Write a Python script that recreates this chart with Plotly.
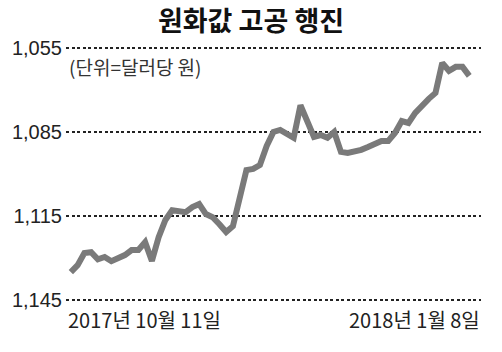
import plotly.graph_objects as go

# Won per dollar, trading days from 2017-10-11 to 2018-01-08
rates = [1135.0, 1132.5, 1128.2, 1127.9, 1130.4, 1129.6, 1131.1, 1130.0, 1128.9, 1127.1,
         1127.1, 1124.3, 1131.0, 1122.5, 1116.4, 1112.9, 1113.2, 1113.6, 1111.8, 1110.7,
         1114.3, 1115.4, 1117.9, 1120.7, 1118.6, 1107.5, 1098.6, 1098.2, 1096.8, 1090.0,
         1085.0, 1084.3, 1085.7, 1087.1, 1075.5, 1080.7, 1086.8, 1086.1, 1087.1, 1085.0,
         1092.1, 1092.5, 1092.1, 1091.4, 1090.4, 1089.3, 1088.2, 1088.2, 1085.4, 1081.1,
         1081.8, 1078.2, 1075.4, 1073.2, 1071.1, 1060.4, 1063.2, 1061.8, 1061.8, 1065.0]
days = list(range(len(rates)))

y_ticks = [1055, 1085, 1115, 1145]
y_tick_labels = ["1,055", "1,085", "1,115", "1,145"]
x_labels = ["2017년 10월 11일", "2018년 1월 8일"]
title_text = "원화값 고공 행진"
unit_text = "(단위=달러당 원)"

KR = "Noto Sans CJK KR, Noto Sans, sans-serif"
NUM = "Liberation Sans Narrow, Liberation Sans, Arial Narrow, sans-serif"

fig = go.Figure()
fig.add_trace(go.Scatter(
    x=days, y=rates, mode="lines",
    line=dict(color="#7a7a7a", width=6),
    hoverinfo="skip", showlegend=False,
))

fig.update_layout(
    width=502, height=352,
    margin=dict(l=57, r=21, t=45, b=49),
    paper_bgcolor="white", plot_bgcolor="white",
    title=dict(text=title_text, x=0.5, xref="container", xanchor="center",
               y=0.938, yref="container", yanchor="middle",
               font=dict(family=KR, size=27, color="#111", weight="bold")),
    xaxis=dict(range=[-0.72, len(rates) - 1 + 1.74], showgrid=False, zeroline=False,
               showticklabels=False, showline=False, ticks=""),
    yaxis=dict(range=[1146, 1054], tickvals=y_ticks, ticktext=y_tick_labels,
               showgrid=True, gridcolor="#222", gridwidth=1.6, griddash="3px,2.5px",
               zeroline=False, showline=False, ticks="", ticklabelstandoff=3,
               tickfont=dict(family=NUM, size=20, color="#222")),
    annotations=[
        dict(text=unit_text, xref="paper", yref="paper", x=0, y=0.915,
             xanchor="left", yanchor="middle", showarrow=False, xshift=1,
             font=dict(family=KR, size=19, color="#333")),
        dict(text=x_labels[0], xref="paper", yref="paper", x=0, y=0,
             xanchor="left", yanchor="top", showarrow=False, yshift=0,
             font=dict(family=KR, size=20, color="#222")),
        dict(text=x_labels[1], xref="paper", yref="paper", x=1, y=0,
             xanchor="right", yanchor="top", showarrow=False, yshift=0, xshift=1,
             font=dict(family=KR, size=20, color="#222")),
    ],
)

fig.write_html("out.html")
